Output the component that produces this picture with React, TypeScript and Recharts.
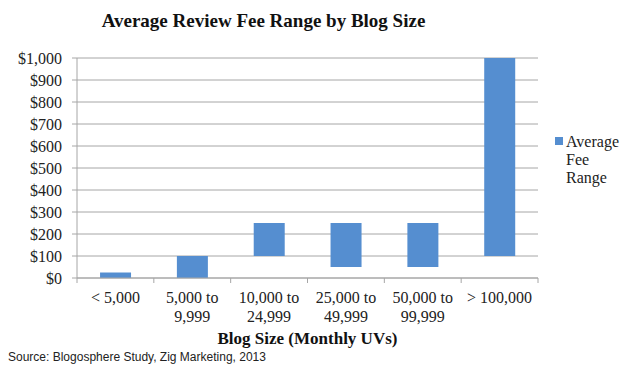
import React from 'react';
import { Bar, BarChart, CartesianGrid, XAxis, YAxis } from 'recharts';

const categories = ['< 5,000', '5,000 to\n9,999', '10,000 to\n24,999', '25,000 to\n49,999', '50,000 to\n99,999', '> 100,000'];
const feeLow = [0, 0, 100, 50, 50, 100];
const feeHigh = [25, 100, 250, 250, 250, 1000];
const yTicks = [0, 100, 200, 300, 400, 500, 600, 700, 800, 900, 1000];

const data = categories.map((size, i) => ({ size, low: feeLow[i], high: feeHigh[i] }));

const W = 630;
const H = 378;
const margin = { top: 58, right: 92, bottom: 0, left: 8 };
const yAxisWidth = 69;
const plotW = W - margin.left - margin.right - yAxisWidth;
const band = plotW / categories.length;

const serif = '"Liberation Serif", "Times New Roman", serif';
const grey = '#a6a6a6';
const blue = '#558ed0';

const money = (v: number) => '$' + v.toLocaleString('en-US');

const XTick = (props: any) => {
	const { x, y, payload, index } = props;
	const lines = String(payload.value).split('\n');
	const left = x - band / 2;
	const right = x + band / 2;
	return (
		<g>
			<line x1={left} x2={left} y1={y} y2={y + 5} stroke={grey} />
			{index === categories.length - 1 && <line x1={right} x2={right} y1={y} y2={y + 5} stroke={grey} />}
			{lines.map((l, i) => (
				<text key={i} x={x} y={y + 25 + i * 19} textAnchor="middle" fontFamily={serif} fontSize={16} fill="#222">
					{l}
				</text>
			))}
		</g>
	);
};

const App = () => {
	return (
		<div style={{ position: 'absolute', left: 0, top: 0, width: W, height: H, background: '#fff' }}>
			<div style={{ position: 'absolute', left: 0, top: 9, width: 527, textAlign: 'center', fontFamily: serif, fontWeight: 'bold', fontSize: 19, lineHeight: '24px', color: '#111' }}>
				Average Review Fee Range by Blog Size
			</div>
			<BarChart width={W} height={H} data={data} margin={margin} barCategoryGap="30%">
				<CartesianGrid vertical={false} stroke={grey} />
				<XAxis
					dataKey="size"
					height={100}
					interval={0}
					tickLine={false}
					tickSize={0}
					tickMargin={0}
					stroke={grey}
					tick={<XTick />}
				/>
				<YAxis
					width={yAxisWidth}
					domain={[0, 1000]}
					ticks={yTicks}
					interval={0}
					tickFormatter={money}
					tickSize={5}
					tickMargin={10}
					stroke={grey}
					tick={{ fontFamily: serif, fontSize: 16, fill: '#222' }}
				/>
				<Bar
					name="Average Fee Range"
					dataKey={(d: any) => [d.low, d.high]}
					fill={blue}
					isAnimationActive={false}
				/>
			</BarChart>
			<div style={{ position: 'absolute', left: 555, top: 133, display: 'flex', fontFamily: serif, fontSize: 16, color: '#222', lineHeight: '18px' }}>
				<div style={{ width: 8, height: 8, background: blue, marginTop: 4, marginRight: 3 }} />
				<div style={{ width: 60 }}>Average<br />Fee<br />Range</div>
			</div>
			<div style={{ position: 'absolute', left: 77, top: 329, width: 461, textAlign: 'center', fontFamily: serif, fontWeight: 'bold', fontSize: 17, lineHeight: '20px', color: '#111' }}>
				Blog Size (Monthly UVs)
			</div>
			<div style={{ position: 'absolute', left: 8, top: 350, fontFamily: '"Liberation Sans", Arial, sans-serif', fontSize: 12, lineHeight: '14px', color: '#222' }}>
				Source: Blogosphere Study, Zig Marketing, 2013
			</div>
		</div>
	);
};

export default App;
